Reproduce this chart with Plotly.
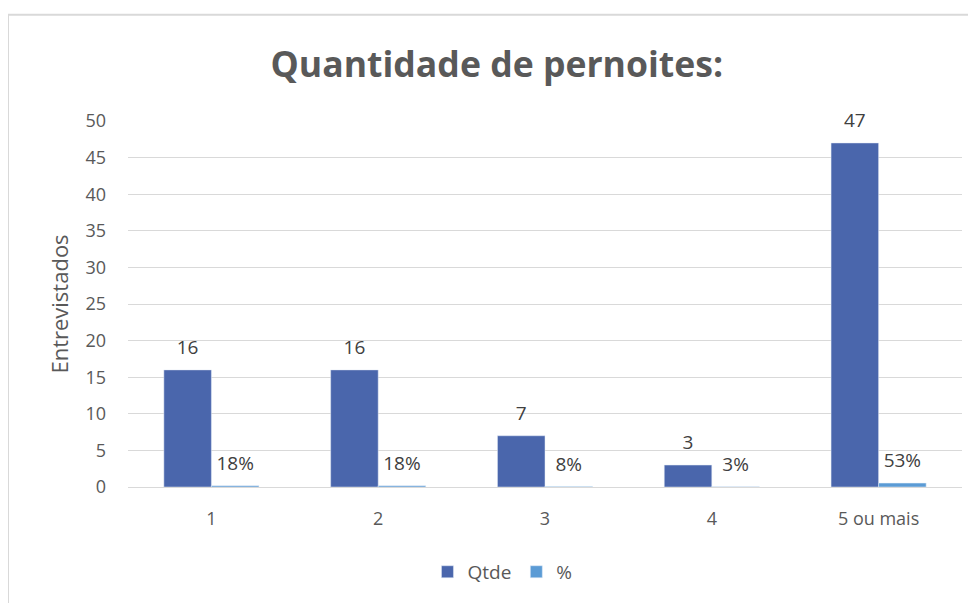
import plotly.graph_objects as go

categories = ["1", "2", "3", "4", "5 ou mais"]
qtde = [16, 16, 7, 3, 47]
pct = [0.18, 0.18, 0.08, 0.03, 0.53]
y_ticks = [0, 5, 10, 15, 20, 25, 30, 35, 40, 45, 50]

FONT = "Open Sans"
GRAY = "#595959"
LABEL = "#404040"

fig = go.Figure()
fig.add_trace(go.Bar(x=categories, y=qtde, name="Qtde", marker=dict(color="#4A66AC")))
fig.add_trace(go.Bar(x=categories, y=pct, name="%", marker=dict(color="#5B9BD5")))

# data labels, grouped the same way as the bars
fig.add_trace(go.Scatter(
    x=categories, y=qtde, mode="markers+text", showlegend=False, hoverinfo="skip",
    marker=dict(size=16, opacity=0), text=[str(v) for v in qtde],
    textposition="top center", textfont=dict(family=FONT, size=19, color=LABEL),
    cliponaxis=False,
))
fig.add_trace(go.Scatter(
    x=categories, y=pct, mode="markers+text", showlegend=False, hoverinfo="skip",
    marker=dict(size=16, opacity=0), text=[f"{round(v*100)}%" for v in pct],
    textposition="top center", textfont=dict(family=FONT, size=19, color=LABEL),
    cliponaxis=False,
))

fig.update_layout(
    width=968, height=595,
    margin=dict(l=120, r=14, t=113, b=112),
    paper_bgcolor="white", plot_bgcolor="white",
    barmode="group", bargap=0.43, bargroupgap=0,
    scattermode="group", scattergap=0.43,
    title=dict(text="<b>Quantidade de pernoites:</b>", x=0.505, xanchor="center",
               y=0.905, yanchor="middle",
               font=dict(family=FONT, size=35.6, color=GRAY)),
    font=dict(family=FONT, color=GRAY, size=18),
    showlegend=True,
    legend=dict(orientation="h", x=0.449, xanchor="center", y=-0.232, yanchor="middle",
                font=dict(family=FONT, size=19, color=GRAY), traceorder="normal"),
    xaxis=dict(showgrid=False, showline=True, linecolor="#D9D9D9", ticks="",
               tickfont=dict(family=FONT, size=18, color=GRAY), ticklabelstandoff=15),
    yaxis=dict(range=[0, 50], tickvals=y_ticks, showgrid=True, gridcolor="#D9D9D9",
               gridwidth=1, zeroline=False, ticks="", showline=False,
               tickfont=dict(family=FONT, size=18, color=GRAY), ticklabelstandoff=21,
               title=dict(text="Entrevistados", font=dict(family=FONT, size=22, color=GRAY),
                          standoff=10)),
    shapes=[dict(type="rect", xref="paper", yref="paper",
                 x0=-0.1439, x1=1.2, y0=-0.6, y1=1.29,
                 line=dict(color="#D9D9D9", width=2), fillcolor="rgba(0,0,0,0)", layer="below")],
)

fig.write_html("out.html")
